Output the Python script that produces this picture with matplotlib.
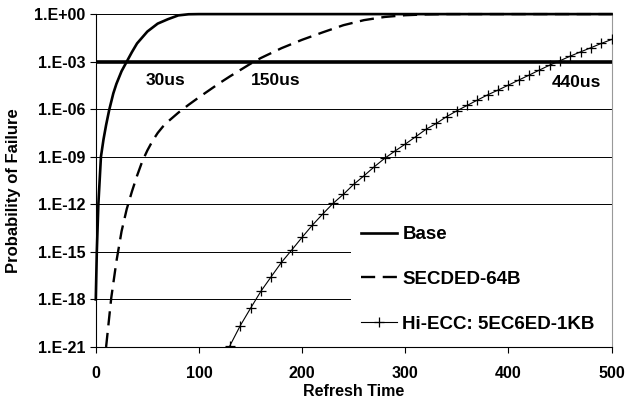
import numpy as np
import matplotlib
matplotlib.use("Agg")
import matplotlib.pyplot as plt
from matplotlib.ticker import FixedLocator, FuncFormatter, NullLocator
from matplotlib.patches import Rectangle

# values, y given as log10(probability)
base_t = [0, 1, 2.5, 5, 7.5, 10, 13, 17, 20, 25, 30, 35, 40, 50, 60, 70, 80, 90, 100,
          200, 300, 400, 500]
base_exp = [-18.0, -15.0, -12.0, -9.0, -7.9, -7.0, -6.05, -5.0, -4.4, -3.6, -3.0, -2.4,
            -1.85, -1.1, -0.6, -0.32, -0.08, -0.01, 0.0, 0.0, 0.0, 0.0, 0.0]

secded_t = [10, 15, 20, 25, 30, 35, 40, 45, 50, 55, 60, 65, 70, 80, 90, 100, 110, 120,
            130, 140, 150, 160, 180, 200, 220, 240, 260, 280, 300, 320, 340, 400, 500]
secded_exp = [-21.0, -17.9, -15.6, -13.7, -12.3, -11.2, -10.2, -9.3, -8.6, -8.0, -7.5,
              -7.1, -6.78, -6.22, -5.72, -5.25, -4.8, -4.35, -3.93, -3.53, -3.13, -2.77,
              -2.15, -1.62, -1.15, -0.7, -0.38, -0.18, -0.07, -0.02, 0.0, 0.0, 0.0]

hiecc_t = list(range(120, 510, 10))
hiecc_exp = [-22.2, -20.92, -19.66, -18.56, -17.49, -16.57, -15.66, -14.88, -14.08, -13.31,
             -12.61, -11.94, -11.37, -10.74, -10.20, -9.63, -9.10, -8.64, -8.20, -7.74,
             -7.27, -6.90, -6.47, -6.10, -5.76, -5.42, -5.09, -4.79, -4.48, -4.16, -3.85,
             -3.53, -3.22, -2.94, -2.65, -2.38, -2.12, -1.85, -1.60]

threshold = 1e-3
notes = [("30us", 68, -4.2), ("150us", 174, -4.2), ("440us", 466, -4.3)]
series_names = ["Base", "SECDED-64B", "Hi-ECC: 5EC6ED-1KB"]

plt.rcParams["font.family"] = ["Liberation Sans", "DejaVu Sans"]
plt.rcParams["font.weight"] = "bold"

fig = plt.figure(figsize=(6.26, 4.03), dpi=100)
ax = fig.add_axes([0.153, 0.139, 0.824, 0.826])

ax.plot(base_t, 10.0 ** np.array(base_exp), color="black", lw=1.9,
        label=series_names[0], clip_on=False, zorder=4)
ax.plot(secded_t, 10.0 ** np.array(secded_exp), color="black", lw=1.7,
        dashes=(6, 3.2), label=series_names[1], clip_on=False, zorder=4)
ax.plot(hiecc_t, 10.0 ** np.array(hiecc_exp), color="black", lw=0.8, marker="+",
        markersize=7, mew=0.9, label=series_names[2], zorder=4)
ax.axhline(threshold, color="black", lw=2.6, zorder=3)

for txt, x, e in notes:
    ax.text(x, 10.0 ** e, txt, ha="center", va="center", fontsize=12.5,
            fontweight="bold")

ax.set_yscale("log")
ax.set_xlim(0, 500)
ax.set_ylim(1e-21, 1.0)
ax.yaxis.set_major_locator(FixedLocator([10.0 ** k for k in range(-21, 1, 3)]))
ax.yaxis.set_minor_locator(NullLocator())
ax.yaxis.set_major_formatter(FuncFormatter(lambda v, p: "1.E%+03d" % round(np.log10(v))))
ax.set_xticks([0, 100, 200, 300, 400, 500])

ax.tick_params(axis="both", labelsize=11.5, length=4, width=0.8, direction="out")
ax.tick_params(axis="x", pad=10)
for lab in ax.get_xticklabels() + ax.get_yticklabels():
    lab.set_fontweight("bold")

ax.set_axisbelow(True)
ax.grid(axis="y", color="black", lw=0.7)
ax.spines["top"].set_visible(False)
ax.spines["right"].set_color("#999999")
ax.spines["right"].set_linewidth(0.8)
ax.spines["left"].set_linewidth(0.8)
ax.spines["bottom"].set_linewidth(0.8)

# white box behind the legend hides the lower grid lines
ax.add_patch(Rectangle((0.495, 0.0), 0.505, 0.40, transform=ax.transAxes,
                       facecolor="white", edgecolor="none", zorder=1))

ax.set_xlabel("Refresh Time", fontsize=11.5, fontweight="bold", labelpad=2)
ax.set_ylabel("Probability of Failure", fontsize=12, fontweight="bold")
ax.yaxis.set_label_coords(-0.145, 0.47)

leg = ax.legend(loc="lower left", bbox_to_anchor=(0.5, 0.02), frameon=False,
                fontsize=13.5, handlelength=1.9, handletextpad=0.3,
                labelspacing=1.48, borderaxespad=0.0)
for t in leg.get_texts():
    t.set_fontweight("bold")

fig.savefig("out.png", dpi=100)
